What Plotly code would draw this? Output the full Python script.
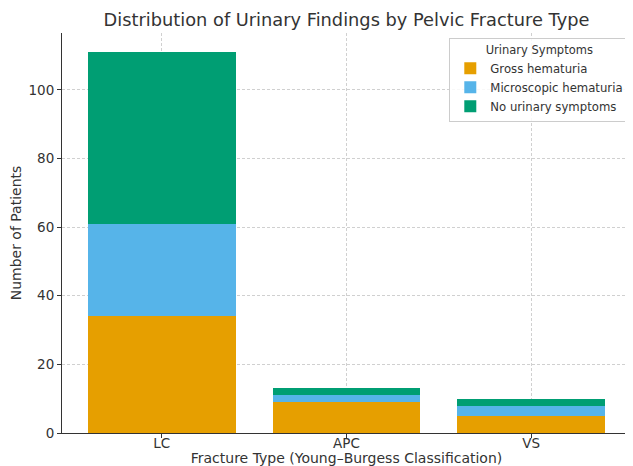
import plotly.graph_objects as go

categories = ["LC", "APC", "VS"]
gross = [34, 9, 5]
micro = [27, 2, 3]
none_sym = [50, 2, 2]
series_names = ["Gross hematuria", "Microscopic hematuria", "No urinary symptoms"]
colors = ["#E69F00", "#56B4E9", "#009E73"]
y_ticks = [0, 20, 40, 60, 80, 100]

fig = go.Figure()
for name, vals, col in zip(series_names, [gross, micro, none_sym], colors):
    fig.add_trace(go.Bar(x=[0, 1, 2], y=vals, name=name, marker=dict(color=col, line=dict(width=0)),
                         width=0.8))

# page body has an 8px margin: size the figure so it fits the 633x466 window
W, H = 625, 458
font = "DejaVu Sans"
fig.update_layout(
    barmode="stack",
    width=W, height=H,
    margin=dict(l=54, r=2, t=25, b=33, autoexpand=False),
    paper_bgcolor="white", plot_bgcolor="white",
    font=dict(family=font, color="#333333", size=14),
    title=dict(text="Distribution of Urinary Findings by Pelvic Fracture Type",
               x=0.5, xref="paper", xanchor="center", y=1 - 12 / H, yanchor="middle",
               font=dict(size=17.8, color="#333333")),
    xaxis=dict(range=[-0.54, 2.54], tickmode="array", tickvals=[0, 1, 2], ticktext=categories,
               showgrid=True, gridcolor="#d0d0d0", griddash="3px,2px", gridwidth=1,
               showline=True, linecolor="#333333", linewidth=1, automargin=True,
               ticks="outside", ticklen=4, tickcolor="#333333", tickfont=dict(size=13.5),
               ticklabelstandoff=-6,
               title=dict(text="Fracture Type (Young–Burgess Classification)", standoff=4,
                          font=dict(size=14)), zeroline=False),
    yaxis=dict(range=[0, 116.55], tickmode="array", tickvals=y_ticks,
               showgrid=True, gridcolor="#d0d0d0", griddash="3px,2px", gridwidth=1,
               showline=True, linecolor="#333333", linewidth=1, automargin=False,
               ticks="outside", ticklen=4, tickcolor="#333333", tickfont=dict(size=13.5),
               title=dict(text="Number of Patients", font=dict(size=14)),
               zeroline=False),
    legend=dict(x=0.997, y=0.988, xanchor="right", yanchor="top",
                bgcolor="rgba(255,255,255,0.85)", bordercolor="#cccccc", borderwidth=1,
                title=dict(text="Urinary Symptoms", side="top center", font=dict(size=11.5)),
                font=dict(size=11.7), traceorder="normal", tracegroupgap=0),
)
fig.write_html("out.html")
